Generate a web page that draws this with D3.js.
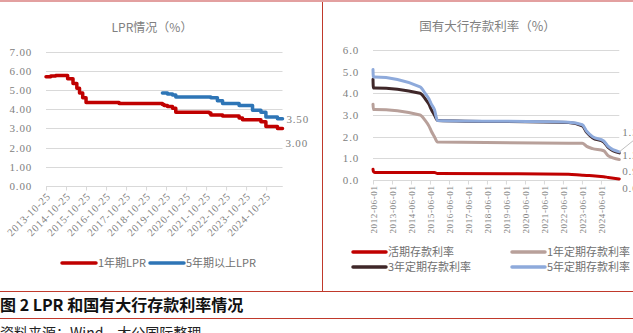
<!DOCTYPE html>
<html><head><meta charset="utf-8">
<script src="https://cdn.jsdelivr.net/npm/d3@7"></script>
<style>body{margin:0;background:#fff;} svg{display:block;}</style>
</head><body><svg id="c" width="633" height="333"></svg>
<script>
// ---------- LPR data ----------
const lpr1YDates = ["2013-10-25","2014-01-20","2014-04-20","2014-11-24","2015-03-02","2015-05-11","2015-06-29","2015-08-26","2015-10-26","2017-06-20","2019-08-20","2019-09-20","2019-11-20","2020-02-20","2020-04-20","2021-12-20","2022-01-20","2022-08-22","2023-06-20","2023-08-21","2024-07-22","2024-10-21","2025-05-20","2025-08-20"];
const lpr1Y      = [5.71,5.74,5.77,5.60,5.35,5.10,4.85,4.60,4.35,4.31,4.25,4.20,4.15,4.05,3.85,3.80,3.70,3.65,3.55,3.45,3.35,3.10,3.00,3.00];
const lpr5YDates = ["2019-08-20","2019-11-20","2020-02-20","2020-04-20","2022-01-20","2022-05-20","2022-08-22","2023-06-20","2024-02-20","2024-07-22","2024-10-21","2025-05-20","2025-08-20"];
const lpr5Y      = [4.85,4.80,4.75,4.65,4.60,4.45,4.30,4.20,3.95,3.85,3.60,3.50,3.50];
const lprXTicks  = ["2013-10-25","2014-10-25","2015-10-25","2016-10-25","2017-10-25","2018-10-25","2019-10-25","2020-10-25","2021-10-25","2022-10-25","2023-10-25","2024-10-25"];
const lprYTicks  = [0,1,2,3,4,5,6,7];
const lprSeries  = ["1年期LPR","5年期以上LPR"];

// ---------- Deposit rate data ----------
const depDates  = ["2012-06-01","2012-06-08","2012-07-06","2014-11-22","2015-03-01","2015-05-11","2015-06-28","2015-08-26","2015-10-24","2022-09-15","2023-06-08","2023-09-01","2023-12-22","2024-07-25","2024-10-18","2025-05-20"];
const depDemand = [0.50,0.40,0.35,0.35,0.35,0.35,0.35,0.35,0.30,0.27,0.22,0.21,0.20,0.15,0.12,0.05];
const dep1Y     = [3.50,3.25,3.25,3.00,2.75,2.50,2.25,2.00,1.75,1.70,1.70,1.55,1.45,1.35,1.12,0.95];
const dep3Y     = [4.65,4.25,4.25,4.00,3.75,3.50,3.25,3.00,2.75,2.65,2.50,2.20,1.95,1.75,1.50,1.25];
const dep5Y     = [5.10,4.75,4.75,4.30,4.00,3.75,3.50,3.25,2.75,2.67,2.55,2.25,2.00,1.80,1.55,1.30];
const depXTicks = ["2012-06-01","2013-06-01","2014-06-01","2015-06-01","2016-06-01","2017-06-01","2018-06-01","2019-06-01","2020-06-01","2021-06-01","2022-06-01","2023-06-01","2024-06-01"];
const depYTicks = [0,1,2,3,4,5,6];
const depSeries = ["活期存款利率","1年定期存款利率","3年定期存款利率","5年定期存款利率"];
const depEndLabels = ["1.30","1.25","0.95","0.05"];

const P = d3.timeParse("%Y-%m-%d");
const svg = d3.select("#c");
const gray = "#808080", grid = "#d9d9d9", frame = "#c0392b";
const numFont = "'Liberation Serif', serif";
const cjk = "'Noto Sans CJK SC', sans-serif";

svg.append("rect").attr("width",633).attr("height",333).attr("fill","#fff");

// ---------- frame ----------
svg.append("line").attr("x1",0).attr("x2",633).attr("y1",1).attr("y2",1).attr("stroke","#e3a0a0").attr("stroke-width",2);
svg.append("line").attr("x1",322.5).attr("x2",322.5).attr("y1",2).attr("y2",291).attr("stroke",frame).attr("stroke-width",1);
svg.append("line").attr("x1",0).attr("x2",633).attr("y1",291.5).attr("y2",291.5).attr("stroke",frame).attr("stroke-width",1);
svg.append("line").attr("x1",0).attr("x2",633).attr("y1",318.5).attr("y2",318.5).attr("stroke",frame).attr("stroke-width",1);

svg.append("text").attr("x",0).attr("y",311).attr("font-family",cjk).attr("font-weight","bold").attr("font-size",16).attr("fill","#111").text("图 2 LPR 和国有大行存款利率情况");
svg.append("text").attr("x",0).attr("y",338).attr("font-family",cjk).attr("font-size",14).attr("fill","#222").text("资料来源：Wind，大公国际整理");

function chart(opt){
  const g = svg.append("g");
  const x = d3.scaleTime().domain(opt.xDomain.map(P)).range(opt.xRange);
  const y = d3.scaleLinear().domain(opt.yDomain).range(opt.yRange);
  // title
  g.append("text").attr("x",opt.titleX).attr("y",opt.titleY).attr("text-anchor","middle")
    .attr("font-family",cjk).attr("font-size",opt.titleSize).attr("fill",gray).text(opt.title);
  // grid
  g.selectAll(".gl").data(opt.yTicks).enter().append("line")
    .attr("x1",opt.xRange[0]).attr("x2",opt.xRange[1])
    .attr("y1",d=>Math.round(y(d))+0.5).attr("y2",d=>Math.round(y(d))+0.5)
    .attr("stroke",grid).attr("stroke-width",1);
  // y labels
  const ya = g.append("g").attr("transform",`translate(${opt.xRange[0]},0)`)
    .call(d3.axisLeft(y).tickValues(opt.yTicks).tickSize(0).tickPadding(opt.yPad).tickFormat(d3.format(opt.yFmt)));
  ya.select(".domain").remove();
  ya.selectAll("text").attr("font-family",numFont).attr("font-size",11).attr("letter-spacing","0.8px").attr("fill",gray);
  // x axis
  const xa = g.append("g").attr("transform",`translate(0,${Math.round(y(0))+0.5})`)
    .call(d3.axisBottom(x).tickValues(opt.xTicks.map(P)).tickSize(4).tickFormat(d3.timeFormat("%Y-%m-%d")));
  xa.select(".domain").attr("stroke",grid).attr("d",`M${opt.xRange[0]},0H${opt.xRange[1]}`);
  xa.selectAll(".tick line").attr("stroke",grid);
  xa.selectAll("text").attr("font-family",numFont).attr("font-size",opt.xFont).attr("letter-spacing",opt.xSpacing).attr("fill",gray)
    .attr("x",0).attr("y",0).attr("dy","0.35em").attr("text-anchor","end").attr("transform",opt.xRot);
  // series
  opt.series.forEach(s=>{
    const pts = s.dates.map((d,i)=>[P(d), s.values[i]]);
    const line = d3.line().x(d=>x(d[0])).y(d=>y(d[1])).curve(opt.curve);
    g.append("path").attr("d",line(pts)).attr("fill","none").attr("stroke",s.color)
      .attr("stroke-width",opt.lw).attr("stroke-linejoin","round").attr("stroke-linecap","round");
  });
  return {x,y,g};
}

// ---------- left chart ----------
const L = chart({
  title:"LPR情况（%）", titleX:152, titleY:32, titleSize:12,
  xDomain:["2013-10-25","2025-08-20"], xRange:[46,282.5],
  yDomain:[0,7], yRange:[185.7,52], yTicks:lprYTicks, yFmt:".2f", yPad:14,
  xTicks:lprXTicks, xFont:10.5, xSpacing:"0.7px", xRot:"translate(2,8) rotate(-45)",
  curve:d3.curveStepAfter, lw:3.5,
  series:[
    {dates:lpr1YDates, values:lpr1Y, color:"#c00000"},
    {dates:lpr5YDates, values:lpr5Y, color:"#2e75b6"}
  ]
});
const lEndX = L.x(P(lpr1YDates[lpr1YDates.length-1]));
L.g.append("text").attr("x",lEndX+4).attr("y",L.y(lpr5Y[lpr5Y.length-1])).attr("dy","0.35em")
  .attr("font-family",numFont).attr("font-size",11).attr("letter-spacing","0.8px").attr("fill",gray).text(d3.format(".2f")(lpr5Y[lpr5Y.length-1]));
L.g.append("text").attr("x",lEndX+3).attr("y",L.y(lpr1Y[lpr1Y.length-1])+15).attr("dy","0.35em")
  .attr("font-family",numFont).attr("font-size",11).attr("letter-spacing","0.8px").attr("fill",gray).text(d3.format(".2f")(lpr1Y[lpr1Y.length-1]));

// left legend
const lLeg = [{name:lprSeries[0],color:"#c00000",x:62},{name:lprSeries[1],color:"#2e75b6",x:150}];
lLeg.forEach(d=>{
  svg.append("line").attr("x1",d.x).attr("x2",d.x+34).attr("y1",263).attr("y2",263).attr("stroke",d.color).attr("stroke-width",3.5).attr("stroke-linecap","round");
  svg.append("text").attr("x",d.x+36).attr("y",263).attr("dy","0.35em").attr("font-family",cjk).attr("font-size",11).attr("fill","#707070").text(d.name);
});

// ---------- right chart ----------
const depColors = ["#c00000","#b8a09a","#3f2729","#8eaadb"];
const R = chart({
  title:"国有大行存款利率（%）", titleX:487.5, titleY:31, titleSize:12.5,
  xDomain:["2012-06-01","2025-05-20"], xRange:[373,619.3],
  yDomain:[0,6], yRange:[180,50], yTicks:depYTicks, yFmt:".1f", yPad:14,
  xTicks:depXTicks, xFont:9, xSpacing:"0.6px", xRot:"translate(0,5) rotate(-90)",
  curve:d3.curveMonotoneX, lw:3,
  series:[
    {dates:depDates, values:depDemand, color:depColors[0]},
    {dates:depDates, values:dep1Y, color:depColors[1]},
    {dates:depDates, values:dep3Y, color:depColors[2]},
    {dates:depDates, values:dep5Y, color:depColors[3]}
  ].reverse().reverse()
});
// redraw order: 5Y above 3Y is fine as drawn
const rEndX = R.x(P(depDates[depDates.length-1]));
const endY = [R.y(dep5Y[dep5Y.length-1])-20, R.y(dep3Y[dep3Y.length-1])+2, R.y(dep1Y[dep1Y.length-1])+12, R.y(depDemand[depDemand.length-1])+9];
R.g.append("line").attr("x1",rEndX).attr("y1",R.y(dep5Y[dep5Y.length-1])).attr("x2",633).attr("y2",endY[0]+9)
  .attr("stroke","#bfbfbf").attr("stroke-width",1);
depEndLabels.forEach((t,i)=>{
  R.g.append("text").attr("x",rEndX+3).attr("y",endY[i]).attr("dy","0.35em")
    .attr("font-family",numFont).attr("font-size",11).attr("letter-spacing","0.8px").attr("fill",gray).text(t);
});

// right legend
const rLeg = [
  {name:depSeries[0],color:depColors[0],x:353,y:252},
  {name:depSeries[1],color:depColors[1],x:512,y:252},
  {name:depSeries[2],color:depColors[2],x:353,y:267},
  {name:depSeries[3],color:depColors[3],x:512,y:267}
];
rLeg.forEach(d=>{
  svg.append("line").attr("x1",d.x).attr("x2",d.x+33).attr("y1",d.y).attr("y2",d.y).attr("stroke",d.color).attr("stroke-width",3.5).attr("stroke-linecap","round");
  svg.append("text").attr("x",d.x+35).attr("y",d.y).attr("dy","0.35em").attr("font-family",cjk).attr("font-size",11).attr("fill","#707070").text(d.name);
});
</script></body></html>
